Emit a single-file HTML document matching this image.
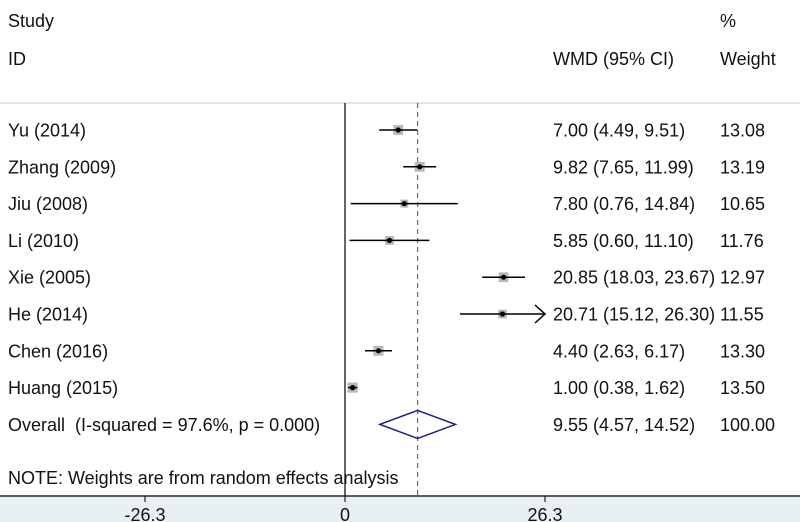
<!DOCTYPE html>
<html><head><meta charset="utf-8"><style>
html,body{margin:0;padding:0;background:#fff}
svg{display:block;font-family:"Liberation Sans",Arial,sans-serif}
</style></head><body>
<svg id="c" width="800" height="522" xmlns="http://www.w3.org/2000/svg">
<rect x="0" y="496" width="800" height="26" fill="#e9f0f3"/>
<line x1="0" y1="103" x2="800" y2="103" stroke="#dcdcdc" stroke-width="1.5"/>
<g font-size="18" fill="#111">
<text x="8" y="27">Study</text>
<text x="8" y="65">ID</text>
<text x="553" y="65">WMD (95% CI)</text>
<text x="720" y="27">%</text>
<text x="720" y="65">Weight</text>
<text x="8" y="484">NOTE: Weights are from random effects analysis</text>
</g>
<g id="plot"></g>
</svg>
<script>
const studies=["Yu (2014)","Zhang (2009)","Jiu (2008)","Li (2010)","Xie (2005)","He (2014)","Chen (2016)","Huang (2015)"];
const est=[7.00,9.82,7.80,5.85,20.85,20.71,4.40,1.00];
const lo=[4.49,7.65,0.76,0.60,18.03,15.12,2.63,0.38];
const hi=[9.51,11.99,14.84,11.10,23.67,26.30,6.17,1.62];
const weights=["13.08","13.19","10.65","11.76","12.97","11.55","13.30","13.50"];
const overall=[9.55,4.57,14.52];
const overallLabel="Overall\u00a0\u00a0(I-squared = 97.6%, p = 0.000)";
const overallWeight="100.00";
const ticks=[-26.3,0,26.3];
const tickLabels=["-26.3","0","26.3"];
const xMin=-26.3,xMax=26.3;
const FS=18;
const X=v=>345+(v)*(545-345)/26.3;
const rowY=i=>130+i*36.8;
const NS="http://www.w3.org/2000/svg";
const g=document.getElementById('plot');
function mk(t,a,txt){const e=document.createElementNS(NS,t);for(const k in a)e.setAttribute(k,a[k]);if(txt!==undefined)e.textContent=txt;g.appendChild(e);return e;}
const fmt=v=>v.toFixed(2);
let e=mk('line',{x1:X(0),y1:103,x2:X(0),y2:496,stroke:'#000','stroke-width':1.2});


e=mk('line',{x1:X(overall[0]),y1:103,x2:X(overall[0]),y2:496,stroke:'#a05060','stroke-width':1.2,'stroke-dasharray':'5,4'});


studies.forEach((s,i)=>{
  const y=rowY(i);
  let t=mk('text',{x:8,y:y+6.5,'font-size':FS,fill:'#111'},s);
  
  
  const wv=parseFloat(weights[i]);const sz=wv*0.75;
  let r=mk('rect',{x:X(est[i])-sz/2,y:y-sz/2,width:sz,height:sz,fill:'#b8b8b8'});
  
  
  const right=Math.min(hi[i],xMax);
  let l=mk('line',{x1:X(lo[i]),y1:y,x2:X(right),y2:y,stroke:'#000','stroke-width':1.5});
  
  
  if(hi[i]>=xMax){
    let a=mk('path',{d:`M${X(xMax)-10},${y-9} L${X(xMax)},${y} L${X(xMax)-10},${y+9}`,fill:'none',stroke:'#000','stroke-width':1.5});
    
    
  }
  let d=mk('circle',{cx:X(est[i]),cy:y,r:2.6,fill:'#000'});
  
  
  t=mk('text',{x:553,y:y+6.5,'font-size':FS,fill:'#111'},`${fmt(est[i])} (${fmt(lo[i])}, ${fmt(hi[i])})`);
  
  
  t=mk('text',{x:720,y:y+6.5,'font-size':FS,fill:'#111'},weights[i]);
  
  
});
const oy=rowY(8);
let t=mk('text',{x:8,y:oy+6.5,'font-size':FS,fill:'#111'},overallLabel);


let dm=mk('path',{d:`M${X(overall[1])},${oy} L${X(overall[0])},${oy-14} L${X(overall[2])},${oy} L${X(overall[0])},${oy+14} Z`,fill:'none',stroke:'#1a237e','stroke-width':1.5});


t=mk('text',{x:553,y:oy+6.5,'font-size':FS,fill:'#111'},`${fmt(overall[0])} (${fmt(overall[1])}, ${fmt(overall[2])})`);


t=mk('text',{x:720,y:oy+6.5,'font-size':FS,fill:'#111'},overallWeight);


let ax=mk('line',{x1:0,y1:496,x2:800,y2:496,stroke:'#000','stroke-width':1.2});


ticks.forEach((v,i)=>{
  let k=mk('line',{x1:X(v),y1:496,x2:X(v),y2:502,stroke:'#000','stroke-width':1});
  
  
  let tl=mk('text',{x:X(v),y:521,'font-size':FS,fill:'#111','text-anchor':'middle'},tickLabels[i]);
  
  
});
</script>
</body></html>
